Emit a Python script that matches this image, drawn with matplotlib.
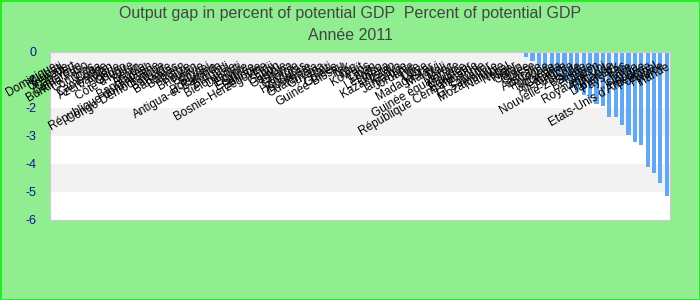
import matplotlib
matplotlib.use('Agg')
import matplotlib.pyplot as plt

# Countries without a value in 2011 (drawn at 0)
missing_countries = [
    "Dominique", "Kiribati", "Grenade", "Cap-Vert", "Cameroun", "Burkina Faso",
    "Comores", "Cuba", "Cambodge", "Azerbaïdjan", "Algérie", "Congo",
    "Côte d'Ivoire", "Bénin", "Angola", "Bangladesh", "République dominicaine",
    "Congo Démocratique", "Barbade", "Bahamas", "Bahreïn", "Belize", "Bhoutan",
    "Bolivie", "Brunei", "Botswana", "Antigua-et-Barbuda", "Burundi",
    "Biélorussie", "Djibouti", "Egypte", "Erythrée", "Ethiopie",
    "Bosnie-Herzégovine", "Fidji", "Gabon", "Gambie", "Ghana", "Géorgie",
    "Honduras", "Indonésie", "Guatemala", "Guyana", "Haïti", "Guinée",
    "Guinée-Bissau", "Irak", "Iran", "Koweït", "Laos", "Liban", "Lesotho",
    "Libéria", "Kazakhstan", "Kenya", "Jamaïque", "Jordanie", "Inde", "Libye",
    "Madagascar", "Malawi", "Mali", "Maroc", "Guinée équatoriale", "Maurice",
    "Equateur", "République Centrafricaine", "Estonie", "El Salvador",
    "Mozambique", "Namibie", "Népal", "Niger", "Oman",
]

gap_countries = [
    "Corée", "Suisse", "Australie", "Pologne", "Norvège", "Canada", "Allemagne",
    "Autriche", "Nouvelle-Zélande", "Suède", "Belgique", "Japon", "Royaume-Uni",
    "Finlande", "Danemark", "Pays-Bas", "Italie", "Islande", "Hongrie",
    "Etats-Unis d'Amérique", "Portugal", "France", "Irlande",
]
gap_values = [
    -0.2, -0.35, -0.5, -0.6, -0.75, -0.9, -1.1, -1.3, -1.45, -1.55, -1.65,
    -1.88, -1.93, -2.35, -2.35, -2.62, -2.97, -3.24, -3.33, -4.13, -4.31,
    -4.67, -5.13,
]

countries = missing_countries + gap_countries
values = [0.0] * len(missing_countries) + gap_values
y_ticks = [0, -1, -2, -3, -4, -5, -6]

plt.rcParams['font.family'] = ['Liberation Sans', 'DejaVu Sans']

fig = plt.figure(figsize=(7, 3), dpi=100, facecolor='#90ee90',
                 edgecolor='#22ee22', linewidth=2)
ax = fig.add_axes([50 / 700, 80 / 300, 620 / 700, 168.5 / 300])
ax.set_facecolor('white')

# alternating bands
for top in (0, -2, -4):
    ax.axhspan(top - 1, top, color='#f2f2f2', zorder=0, lw=0)

x = list(range(len(countries)))
ax.bar(x, values, width=0.65, color='#63a9f2', zorder=2)

for i, name in enumerate(countries):
    ax.text(i, -0.3, name, rotation=30, rotation_mode='anchor',
            ha='right', va='top', fontsize=8.5, color='black', zorder=3)

ax.set_xlim(-0.5, len(countries) - 0.5)
ax.set_ylim(-6, 0)
ax.set_xticks([])
ax.set_yticks(y_ticks)
ax.set_yticklabels([str(t) for t in y_ticks])
ax.tick_params(axis='y', length=0, pad=10, labelsize=9, labelcolor='#10109a')
for spine in ax.spines.values():
    spine.set_color('#cccccc')

fig.text(0.5, 0.955, "Output gap in percent of potential GDP  Percent of potential GDP",
         ha='center', va='center', fontsize=11.5, color='#444444')
fig.text(0.5, 0.88, "Année 2011", ha='center', va='center',
         fontsize=11.5, color='#444444')

fig.savefig('out.png', dpi=100, facecolor=fig.get_facecolor(),
            edgecolor=fig.get_edgecolor())
